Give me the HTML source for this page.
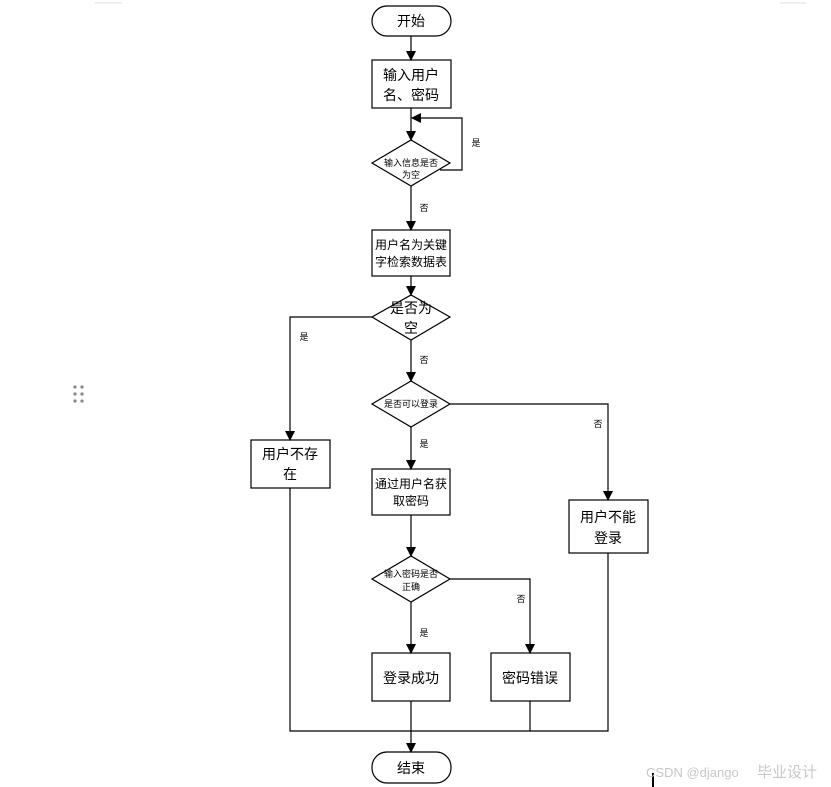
<!DOCTYPE html>
<html><head><meta charset="utf-8"><style>
html,body{margin:0;padding:0;background:#fff;}
svg{display:block;font-family:"Liberation Sans","Noto Sans CJK SC",sans-serif;}
</style></head><body>
<svg width="831" height="787" viewBox="0 0 831 787" xmlns="http://www.w3.org/2000/svg">
<defs><marker id="a" markerWidth="10" markerHeight="10" refX="9" refY="5" orient="auto" markerUnits="userSpaceOnUse"><path d="M0,0 L10,5 L0,10 z" fill="#000"/></marker></defs>
<line x1="95" y1="3" x2="122" y2="3" stroke="#ddd"/>
<line x1="780" y1="3" x2="806" y2="3" stroke="#ddd"/>
<g fill="#888"><circle cx="75" cy="387" r="1.6"/><circle cx="82" cy="387" r="1.6"/><circle cx="75" cy="394" r="1.6"/><circle cx="82" cy="394" r="1.6"/><circle cx="75" cy="401" r="1.6"/><circle cx="82" cy="401" r="1.6"/></g>
<g stroke="#000" stroke-width="1.2" fill="#fff">
<rect x="372" y="6" width="79" height="30" rx="15"/>
<rect x="372" y="60" width="79" height="48"/>
<polygon points="372,163 411,140 450,163 411,186"/>
<rect x="372" y="230" width="78" height="46"/>
<polygon points="372,317 411,295 450,317 411,340"/>
<rect x="251" y="440" width="79" height="48"/>
<polygon points="372,404 411,381 450,404 411,427"/>
<rect x="569" y="500" width="79" height="53"/>
<rect x="372" y="469" width="78" height="46"/>
<polygon points="372,579 411,556 450,579 411,602"/>
<rect x="372" y="653" width="78" height="48"/>
<rect x="491" y="653" width="79" height="48"/>
<rect x="372" y="752" width="79" height="31" rx="15"/>
</g>
<g stroke="#000" stroke-width="1.2" fill="none">
<line x1="411" y1="36" x2="411" y2="60" marker-end="url(#a)"/>
<line x1="411" y1="108" x2="411" y2="140" marker-end="url(#a)"/>
<polyline points="440,170 462,170 462,118 412,118" marker-end="url(#a)"/>
<line x1="411" y1="186" x2="411" y2="230" marker-end="url(#a)"/>
<line x1="411" y1="276" x2="411" y2="295" marker-end="url(#a)"/>
<polyline points="372,317 290,317 290,440" marker-end="url(#a)"/>
<line x1="411" y1="340" x2="411" y2="381" marker-end="url(#a)"/>
<polyline points="450,404 608,404 608,500" marker-end="url(#a)"/>
<line x1="411" y1="427" x2="411" y2="469" marker-end="url(#a)"/>
<line x1="411" y1="515" x2="411" y2="556" marker-end="url(#a)"/>
<polyline points="450,579 530,579 530,653" marker-end="url(#a)"/>
<line x1="411" y1="602" x2="411" y2="653" marker-end="url(#a)"/>
<polyline points="290,488 290,731 608,731 608,553"/>
<line x1="530" y1="701" x2="530" y2="731"/>
<line x1="411" y1="701" x2="411" y2="752" marker-end="url(#a)"/>
<line x1="653" y1="773" x2="653" y2="787" stroke-width="2"/>
</g>
<g font-size="14" text-anchor="middle" fill="#000">
<text x="411" y="26">开始</text>
<text x="411" y="80">输入用户</text><text x="411" y="100">名、密码</text>
<text x="411" y="249" font-size="12">用户名为关键</text><text x="411" y="266" font-size="12">字检索数据表</text>
<text x="411" y="313">是否为</text><text x="411" y="333">空</text>
<text x="290" y="459">用户不存</text><text x="290" y="479">在</text>
<text x="608" y="522">用户不能</text><text x="608" y="543">登录</text>
<text x="411" y="488" font-size="12">通过用户名获</text><text x="411" y="505" font-size="12">取密码</text>
<text x="411" y="683">登录成功</text>
<text x="530" y="683">密码错误</text>
<text x="411" y="773">结束</text>
</g>
<g font-size="9" text-anchor="middle" fill="#000">
<text x="411" y="166">输入信息是否</text><text x="411" y="178">为空</text>
<text x="411" y="407">是否可以登录</text>
<text x="411" y="577">输入密码是否</text><text x="411" y="590">正确</text>
<text x="476" y="146">是</text>
<text x="424" y="211">否</text>
<text x="304" y="340">是</text>
<text x="424" y="363">否</text>
<text x="598" y="427">否</text>
<text x="424" y="447">是</text>
<text x="521" y="602">否</text>
<text x="424" y="636">是</text>
</g>
<text x="646" y="777" font-size="13" fill="#c8c8c8">CSDN @django</text>
<text x="757" y="777" font-size="15" fill="#c8c8c8" font-family="Noto Sans CJK SC,sans-serif">毕业设计</text>
</svg>
</body></html>
